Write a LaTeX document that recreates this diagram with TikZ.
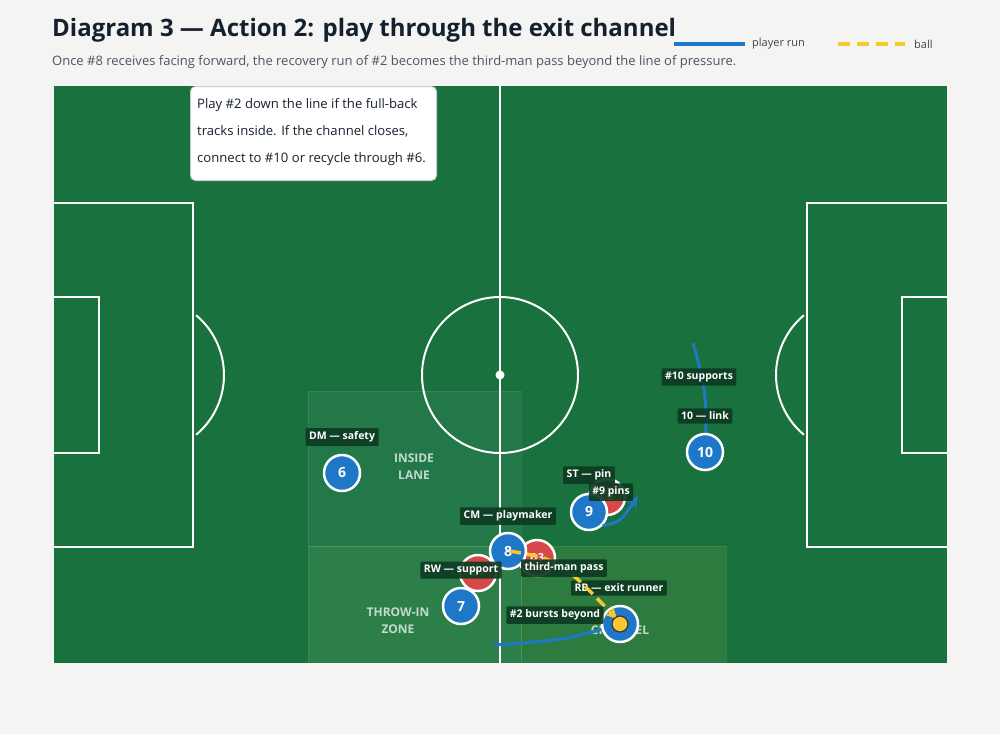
\documentclass[tikz,border=0pt]{standalone}
\usepackage{fontspec}
\setmainfont{Open Sans}
\usetikzlibrary{arrows.meta}
\definecolor{bgc}{HTML}{F4F5F3}
\definecolor{pitchc}{HTML}{19723D}
\definecolor{titlec}{HTML}{15202E}
\definecolor{subc}{HTML}{4A5563}
\definecolor{bluec}{HTML}{1F77C8}
\definecolor{redc}{HTML}{D94848}
\definecolor{yelc}{HTML}{F9C72F}
\definecolor{labc}{HTML}{0E3B22}
\definecolor{zoneA}{HTML}{23784A}
\definecolor{zoneB}{HTML}{2C7F49}
\definecolor{zoneC}{HTML}{2E7B3F}
\definecolor{notec}{HTML}{C9CEC9}
\tikzset{
  pline/.style={draw=white, line width=2pt},
  bp/.style={circle, fill=bluec, draw=white, line width=2.5pt, minimum size=36pt, inner sep=0pt, text=white, font=\fontsize{14}{14}\selectfont\bfseries},
  rp/.style={circle, fill=redc, draw=white, line width=2.5pt, minimum size=36pt, inner sep=0pt, text=white, font=\fontsize{11}{11}\selectfont\bfseries},
  lab/.style={fill=labc, fill opacity=0.92, text opacity=1, text=white, font=\fontsize{10.5}{10.5}\selectfont\bfseries, inner xsep=3.5pt, inner ysep=3.5pt, rounded corners=1pt},
  zonetxt/.style={text=white, text opacity=0.72, align=center, font=\fontsize{12}{17}\selectfont\bfseries},
  run/.style={draw=bluec, line width=3pt},
  pass/.style={draw=yelc, line width=3.5pt, dash pattern=on 11pt off 6pt},
}
\begin{document}
\begin{tikzpicture}[x=1pt,y=-1pt]
\useasboundingbox (0,0) rectangle (1000,734);
\fill[bgc] (0,0) rectangle (1000,734);
% title
\node[anchor=base west, inner sep=0pt, text=titlec, font=\fontsize{24}{24}\selectfont\bfseries] (title) at (52,36) {Diagram 3 — Action 2: play through the exit channel};
\node[anchor=base west, inner sep=0pt, text=subc, font=\fontsize{13}{13}\selectfont] (sub) at (52,65) {Once \#8 receives facing forward, the recovery run of \#2 becomes the third-man pass beyond the line of pressure.};
% legend
\coordinate (lg1a) at (674,44); \coordinate (lg1b) at (745,44);
\draw[run, line width=4pt] (lg1a) -- (lg1b);
\node[anchor=west, inner sep=0pt, text=subc!80!black, font=\fontsize{11}{11}\selectfont] (lgt1) at (752,44) {player run};
\coordinate (lg2a) at (838,44); \coordinate (lg2b) at (905,44);
\draw[pass, line width=4pt, dash pattern=on 12pt off 7pt] (lg2a) -- (lg2b);
\node[anchor=west, inner sep=0pt, text=subc!80!black, font=\fontsize{11}{11}\selectfont] (lgt2) at (914,44) {ball};
% pitch
\fill[pitchc] (54,86) rectangle (947,663);
% zones
\fill[zoneA] (308,391) rectangle (521,546);
\fill[zoneB] (308,546) rectangle (521,662);
\fill[zoneC] (521,546) rectangle (726,662);
\draw[white, opacity=0.08, line width=1pt] (308,391) rectangle (521,546);
\draw[white, opacity=0.08, line width=1pt] (308,546) rectangle (521,662);
\draw[white, opacity=0.08, line width=1pt] (521,546) rectangle (726,662);
% markings
\draw[pline] (500,86) -- (500,663);
\draw[pline] (500,375) circle[radius=78];
\fill[white] (500,375) circle[radius=4.5];
\draw[pline] (54,203) -- (193,203) -- (193,547) -- (54,547);
\draw[pline] (54,297) -- (99,297) -- (99,453) -- (54,453);
\draw[pline] (146,375) ++(-50:78) arc[start angle=-50, end angle=50, radius=78];
\draw[pline] (947,203) -- (807,203) -- (807,547) -- (947,547);
\draw[pline] (947,297) -- (902,297) -- (902,453) -- (947,453);
\draw[pline] (854,375) ++(130:78) arc[start angle=130, end angle=230, radius=78];
% zone labels
\node[zonetxt] (zinside) at (414,467) {INSIDE\\LANE};
\node[zonetxt] (zthrow) at (398,621) {THROW-IN\\ZONE};
\node[zonetxt] (zchan) at (620,630) {CHANNEL};
% runs (under players)
\coordinate (r10s) at (693,343);
\coordinate (r2s) at (494,645);
\draw[run] (r10s) .. controls (706,390) .. (706,452);
\draw[run] (r2s) .. controls (565,640) .. (620,624);
% opponents
\node[rp] (d3) at (537,558) {D3};
\node[rp] (d7) at (478,573) {D7};
\node[rp] (d5) at (607,497) {CB};
% team
\node[bp] (p6) at (342,473) {6};
\node[bp] (p8) at (508,551) {8};
\node[bp] (p9) at (589,512) {9};
\node[bp] (p10) at (705,452) {10};
\node[bp] (p7) at (461,606) {7};
\node[bp] (p2) at (620,624) {2};
% role labels
\node[lab] (l6) at (342,437) {DM — safety};
\node[lab] (l8) at (508,516) {CM — playmaker};
\node[lab] (l9) at (589,475) {ST — pin};
\node[lab] (l10) at (705,416) {10 — link};
\node[lab] (l7) at (461,570) {RW — support};
\node[lab] (l2) at (619,588) {RB — exit runner};
% #9 run
\coordinate (r9e) at (638,496);
\draw[run, -{Stealth[length=12pt, width=11pt]}] (p9.-45) .. controls (620,522) .. (r9e);
% ball pass
\draw[pass, -{Stealth[length=12pt, width=12pt]}] (510,551) .. controls (560,560) .. (617,619);
\node[circle, fill=yelc, draw=black!80, line width=1.2pt, minimum size=16pt, inner sep=0pt] (ball) at (620,624) {};
% action labels
\node[lab] (a10) at (699,377) {\#10 supports};
\node[lab] (a9) at (611,492) {\#9 pins};
\node[lab] (apass) at (564,568) {third-man pass};
\node[lab] (a2) at (555,615) {\#2 bursts beyond};
% callout
\node[draw=notec, fill=white, line width=1pt, rounded corners=5pt, minimum width=246pt, minimum height=94pt, anchor=north west, inner sep=0pt] (note) at (190,86) {};
\node[anchor=north west, align=left, inner sep=0pt, text=titlec, font=\fontsize{13.1}{27}\selectfont] (notetxt) at (197,98) {Play \#2 down the line if the full-back\\tracks inside. If the channel closes,\\connect to \#10 or recycle through \#6.};
\end{tikzpicture}
\end{document}
